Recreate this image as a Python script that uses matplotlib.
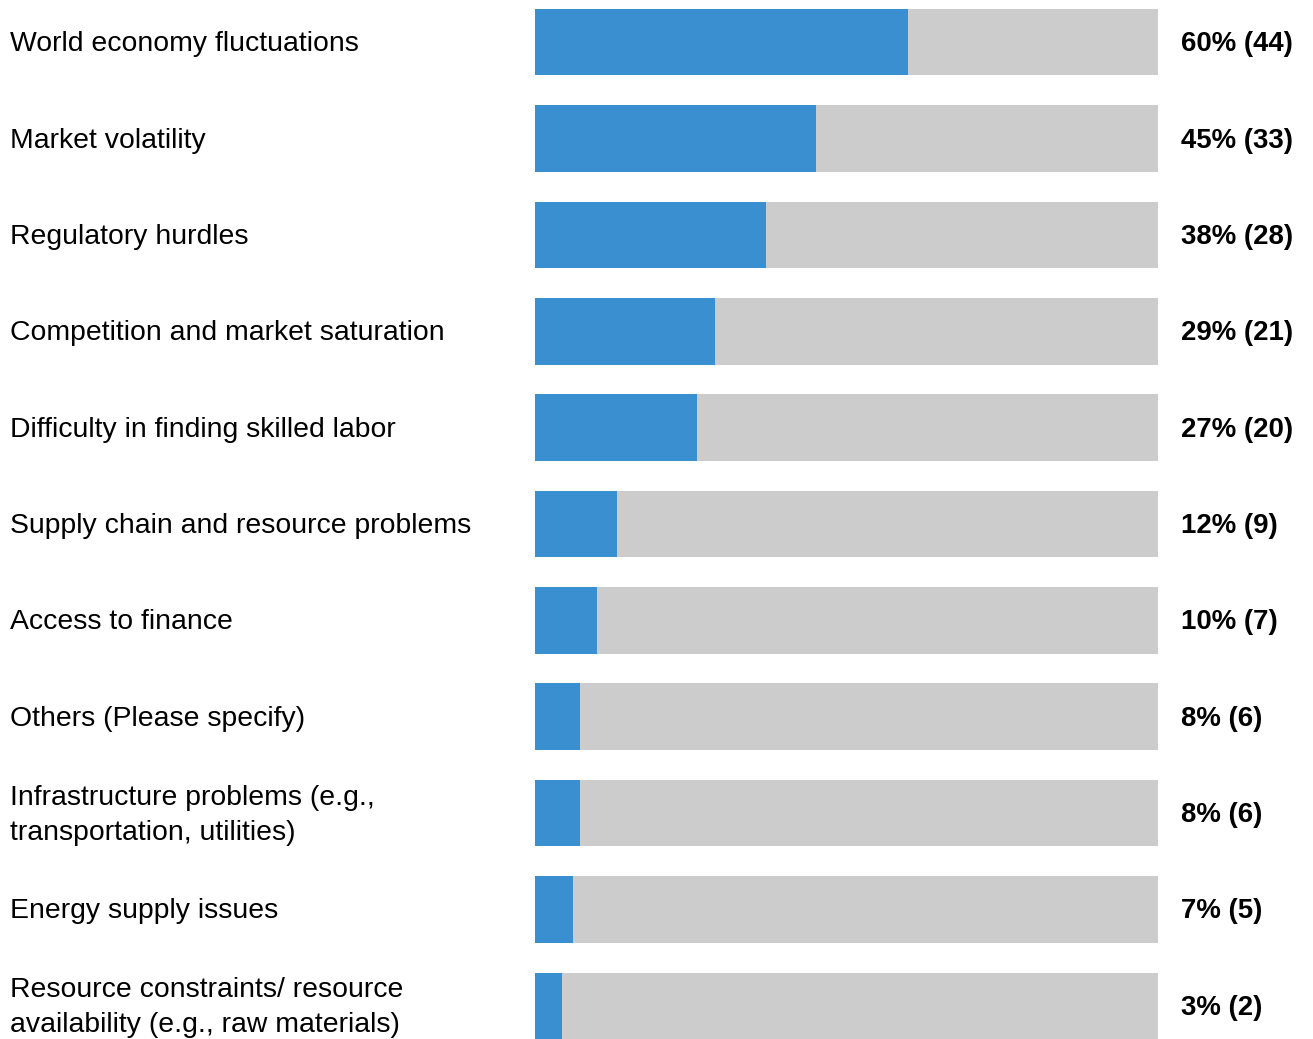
import matplotlib
matplotlib.use("Agg")
from matplotlib import pyplot as plt

categories = [
    "World economy fluctuations",
    "Market volatility",
    "Regulatory hurdles",
    "Competition and market saturation",
    "Difficulty in finding skilled labor",
    "Supply chain and resource problems",
    "Access to finance",
    "Others (Please specify)",
    "Infrastructure problems (e.g.,\ntransportation, utilities)",
    "Energy supply issues",
    "Resource constraints/ resource\navailability (e.g., raw materials)",
]
percents = [60, 45, 38, 29, 27, 12, 10, 8, 8, 7, 3]
counts = [44, 33, 28, 21, 20, 9, 7, 6, 6, 5, 2]
# bar lengths as drawn in the picture (share of full track, %)
bar_lengths = [59.9, 45.1, 37.1, 28.9, 26.0, 13.2, 10.0, 7.2, 7.2, 6.1, 4.3]

plt.rcParams['font.family'] = ['Liberation Sans', 'DejaVu Sans']

fig = plt.figure(figsize=(13.13, 10.39), dpi=100)
ax = fig.add_axes([535/1313, 0, (1158-535)/1313, (1039-9)/1039])

y = list(range(len(categories)))
h = 0.69
ax.barh(y, [100]*len(y), height=h, color='#cccccc')
ax.barh(y, bar_lengths, height=h, color='#3a8fd0')

ax.set_xlim(0, 100)
ax.set_ylim(len(y) - 1 + h/2, -h/2)
ax.axis('off')

to_fig = fig.transFigure.inverted()
for i, (cat, p, c) in enumerate(zip(categories, percents, counts)):
    yy = ax.transData.transform((0, i))[1]
    yf = to_fig.transform((0, yy - 2))[1]
    fig.text(10/1313, yf, cat, ha='left', va='center', fontsize=20.4,
             linespacing=1.45, color='#000000')
    fig.text(1181/1313, yf, f"{p}% ({c})", ha='left', va='center',
             fontsize=19.9, fontweight='bold', color='#000000')

fig.savefig("out.png", dpi=100)
